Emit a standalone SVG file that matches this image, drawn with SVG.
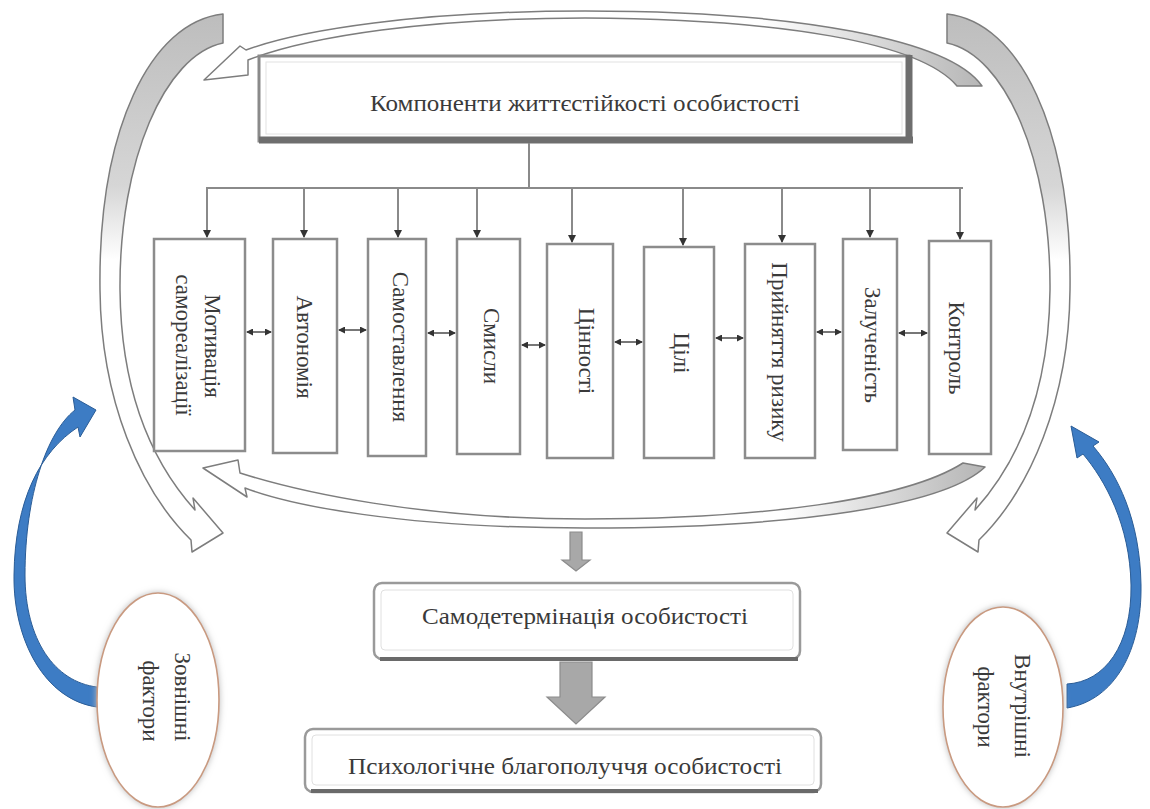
<svg xmlns="http://www.w3.org/2000/svg" width="1150" height="809" viewBox="0 0 1150 809">
<style>
.t{font-family:"Liberation Serif","Times New Roman",serif;font-size:23px;fill:#3a3a3a}
.v{text-anchor:middle;dominant-baseline:central}
.box{fill:#fff;stroke:#8c8c8c;stroke-width:2.5}
.ln{stroke:#8a8a8a;stroke-width:2;fill:none}
.dbl{stroke:#555;stroke-width:1.6;fill:none;marker-start:url(#ah2);marker-end:url(#ah2)}
.band{stroke:#7d7d7d;stroke-width:1.5;stroke-linejoin:round}
.blue{fill:#3d7cc4;stroke:#2a5c96;stroke-width:1;stroke-linejoin:round}
.oval{fill:#fff;stroke:#c99a80;stroke-width:1.6;filter:url(#sh)}
.blk{fill:#a8a8a8;stroke:#8c8c8c;stroke-width:1.2}
</style>
<defs>
<marker id="ah" markerWidth="8" markerHeight="8" refX="7" refY="4" orient="auto" markerUnits="userSpaceOnUse"><path d="M0,0 L8,4 L0,8 Z" fill="#333"/></marker>
<marker id="ah2" markerWidth="7" markerHeight="7" refX="6" refY="3.5" orient="auto-start-reverse" markerUnits="userSpaceOnUse"><path d="M0,0 L7,3.5 L0,7 Z" fill="#333"/></marker>
<linearGradient id="gA" gradientUnits="userSpaceOnUse" x1="985" y1="0" x2="760" y2="0"><stop offset="0" stop-color="#b5b5b5"/><stop offset="1" stop-color="#fff"/></linearGradient>
<linearGradient id="gB" gradientUnits="userSpaceOnUse" x1="0" y1="14" x2="0" y2="260"><stop offset="0" stop-color="#bdbdbd"/><stop offset="0.7" stop-color="#d6d6d6"/><stop offset="1" stop-color="#fff"/></linearGradient>
<linearGradient id="gC" gradientUnits="userSpaceOnUse" x1="985" y1="0" x2="780" y2="0"><stop offset="0" stop-color="#b5b5b5"/><stop offset="1" stop-color="#fff"/></linearGradient>
<filter id="sh" x="-20%" y="-20%" width="140%" height="140%"><feDropShadow dx="0" dy="0" stdDeviation="3" flood-color="#bbbbbb"/></filter>
</defs>
<rect width="1150" height="809" fill="#fff"/>

<g id="cycle-arrows">
<path id="arrow-top" class="band" fill="url(#gA)" d="M982,86 C950,40 800,11 585,11 C420,11 300,30 246,50 L240,46 L204,80 L248,75 L248,60 C310,36 430,18 585,18 C780,19 920,42 957,86 Z"/>
<path id="arrow-left" class="band" fill="url(#gB)" d="M223,14 C150,22 98,130 100,290 C101,400 140,490 191,540 L192,552 L223,533 L193,498 L195,510 C150,460 121,390 120,290 C119,160 165,55 223,43 Z"/>
<path id="arrow-bottom" class="band" fill="url(#gC)" d="M985,467 C945,505 800,528 585,528 C400,528 290,505 245,488 L247,497 L203,468 L238,460 L240,473 C300,492 420,519 585,519 C760,519 905,500 963,463 Z"/>
<path id="arrow-right" class="band" fill="url(#gB)" d="M947,14 C1020,22 1072,130 1070,290 C1069,400 1030,490 979,540 L978,552 L947,533 L977,498 L975,510 C1020,460 1049,390 1050,290 C1051,160 1005,55 947,43 Z"/>
</g>

<g id="top-box">
<rect x="259" y="56" width="650" height="85" fill="#fff" stroke="#8a8a8a" stroke-width="3"/>
<rect x="266" y="62" width="636" height="72" fill="none" stroke="#e2e2e2" stroke-width="1"/>
<line x1="259" y1="140" x2="913" y2="140" stroke="#6e6e6e" stroke-width="7"/>
<line x1="909" y1="55" x2="909" y2="143" stroke="#6e6e6e" stroke-width="7"/>
<text class="t v" x="585" y="103" textLength="430" lengthAdjust="spacingAndGlyphs">Компоненти життєстійкості особистості</text>
</g>

<g id="connectors">
<line class="ln" x1="529" y1="143" x2="529" y2="188"/>
<line class="ln" x1="206" y1="188" x2="963" y2="188"/>
<line class="ln" x1="207" y1="188" x2="207" y2="237" marker-end="url(#ah)"/>
<line class="ln" x1="304" y1="188" x2="304" y2="237" marker-end="url(#ah)"/>
<line class="ln" x1="398" y1="188" x2="398" y2="237" marker-end="url(#ah)"/>
<line class="ln" x1="477" y1="188" x2="477" y2="237" marker-end="url(#ah)"/>
<line class="ln" x1="572" y1="188" x2="572" y2="242" marker-end="url(#ah)"/>
<line class="ln" x1="683" y1="188" x2="683" y2="245" marker-end="url(#ah)"/>
<line class="ln" x1="782" y1="188" x2="782" y2="242" marker-end="url(#ah)"/>
<line class="ln" x1="870" y1="188" x2="870" y2="237" marker-end="url(#ah)"/>
<line class="ln" x1="960" y1="188" x2="960" y2="239" marker-end="url(#ah)"/>
<line class="dbl" x1="247" y1="332" x2="271" y2="332"/>
<line class="dbl" x1="339" y1="330" x2="366" y2="330"/>
<line class="dbl" x1="428" y1="333" x2="455" y2="333"/>
<line class="dbl" x1="522" y1="345" x2="545" y2="345"/>
<line class="dbl" x1="615" y1="342" x2="642" y2="342"/>
<line class="dbl" x1="716" y1="338" x2="743" y2="338"/>
<line class="dbl" x1="817" y1="332" x2="841" y2="332"/>
<line class="dbl" x1="899" y1="333" x2="927" y2="333"/>
<polygon class="blk" points="570,532 582,532 582,560 590,560 576,571 562,560 570,560"/>
<polygon class="blk" points="560,662 592,662 592,697 605,697 576,724 547,697 560,697"/>
<path id="blue-left" class="blue" d="M97,707 C45,700 13,640 14,575 C15,500 40,452 78,427 L80,437 L96,410 L73,397 L75,410 C47,432 25,495 25,575 C25,640 55,682 97,687 Z"/>
<path id="blue-right" class="blue" d="M1067,708 C1115,700 1142,650 1141,585 C1140,520 1118,475 1093,446 L1099,442 L1071,426 L1077,458 L1083,454 C1105,480 1130,525 1131,585 C1132,645 1105,682 1067,684 Z"/>
</g>

<g id="n1"><rect class="box" x="154" y="239" width="91" height="212"/>
<text class="t v" transform="translate(212,346) rotate(90)">Мотивація</text>
<text class="t v" transform="translate(183,345) rotate(90)">самореалізації</text></g>
<g id="n2"><rect class="box" x="273" y="239" width="64" height="214"/>
<text class="t v" transform="translate(304,347) rotate(90)">Автономія</text></g>
<g id="n3"><rect class="box" x="368" y="239" width="58" height="217"/>
<text class="t v" transform="translate(400,347) rotate(90)">Самоставлення</text></g>
<g id="n4"><rect class="box" x="457" y="239" width="63" height="215"/>
<text class="t v" transform="translate(491,346) rotate(90)">Смисли</text></g>
<g id="n5"><rect class="box" x="547" y="244" width="66" height="214"/>
<text class="t v" transform="translate(586,351) rotate(90)">Цінності</text></g>
<g id="n6"><rect class="box" x="644" y="247" width="70" height="211"/>
<text class="t v" transform="translate(681,353) rotate(90)">Цілі</text></g>
<g id="n7"><rect class="box" x="745" y="244" width="70" height="214"/>
<text class="t v" transform="translate(779,352) rotate(90)">Прийняття ризику</text></g>
<g id="n8"><rect class="box" x="843" y="239" width="54" height="211"/>
<text class="t v" transform="translate(872,345) rotate(90)">Залученість</text></g>
<g id="n9"><rect class="box" x="929" y="241" width="62" height="213"/>
<text class="t v" transform="translate(956,348) rotate(90)">Контроль</text></g>

<g id="self-det">
<rect x="374" y="583" width="426" height="76" rx="8" fill="#fff" stroke="#9a9a9a" stroke-width="2.5"/>
<rect x="381" y="590" width="412" height="60" rx="4" fill="none" stroke="#e0e0e0" stroke-width="1"/>
<line x1="380" y1="659" x2="798" y2="659" stroke="#6a6a6a" stroke-width="4"/>
<text class="t v" x="585" y="616" textLength="326" lengthAdjust="spacingAndGlyphs">Самодетермінація особистості</text>
</g>

<g id="wellbeing">
<rect x="305" y="729" width="516" height="63" rx="8" fill="#fff" stroke="#9a9a9a" stroke-width="2.5"/>
<rect x="312" y="735" width="502" height="50" rx="4" fill="none" stroke="#e0e0e0" stroke-width="1"/>
<line x1="311" y1="791" x2="818" y2="791" stroke="#6a6a6a" stroke-width="4"/>
<text class="t v" x="565" y="766" textLength="434" lengthAdjust="spacingAndGlyphs">Психологічне благополуччя особистості</text>
</g>

<g id="external">
<ellipse class="oval" cx="158" cy="700" rx="61" ry="107"/>
<text class="t v" transform="translate(182,697) rotate(90)">Зовнішні</text>
<text class="t v" transform="translate(150,701) rotate(90)">фактори</text>
</g>
<g id="internal">
<ellipse class="oval" cx="1003" cy="707" rx="60" ry="100"/>
<text class="t v" transform="translate(1022,706) rotate(90)">Внутрішні</text>
<text class="t v" transform="translate(985,707) rotate(90)">фактори</text>
</g>
</svg>
